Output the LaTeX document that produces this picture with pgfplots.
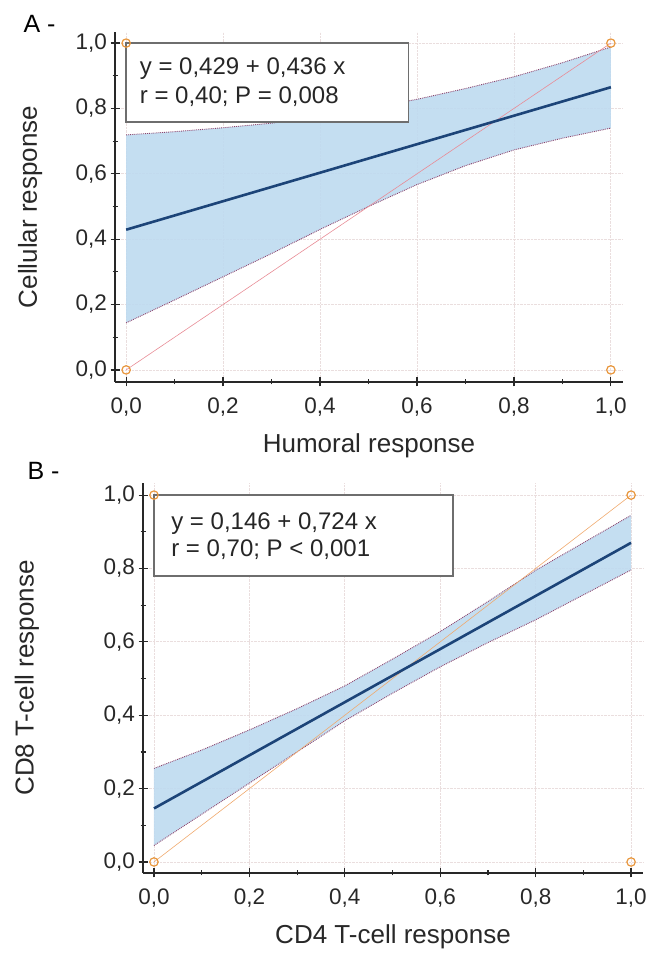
\documentclass[border=0pt]{standalone}
\usepackage{fontspec}
\setmainfont{Liberation Sans}
\usepackage{pgfplots}
\pgfplotsset{compat=1.18}
\usepgfplotslibrary{fillbetween}

\definecolor{band}{RGB}{190,218,240}
\definecolor{regline}{RGB}{28,68,120}
\definecolor{edge}{RGB}{140,70,110}
\definecolor{pts}{RGB}{232,150,60}
\definecolor{gridc}{RGB}{234,222,222}
\definecolor{axisc}{RGB}{40,40,40}
\definecolor{boxc}{RGB}{110,110,110}
\definecolor{diagA}{RGB}{232,140,150}
\definecolor{diagB}{RGB}{240,170,110}

\pgfplotsset{
  corr/.style={
    set layers,
    scale only axis,
    anchor=south west,
    axis lines=left,
    axis line style={-, line width=1.6pt, axisc},
    xmin=-0.023, xmax=1.025,
    xtick={0,0.2,0.4,0.6,0.8,1},
    ytick={0,0.2,0.4,0.6,0.8,1},
    minor tick num=1,
    major tick length=9pt,
    minor tick length=5pt,
    tick style={line width=1.2pt, axisc},
    grid=major,
    grid style={densely dotted, gridc, line width=0.8pt},
    tick label style={font=\fontsize{22.5}{26}\selectfont, text=axisc},
    xticklabel style={yshift=-8pt},
    /pgf/number format/fixed,
    /pgf/number format/fixed zerofill,
    /pgf/number format/precision=1,
    /pgf/number format/use comma,
    /pgf/number format/assume math mode=true,
    label style={font=\fontsize{26}{30}\selectfont, text=axisc},
  },
  edgeline/.style={edge, densely dotted, line width=0.9pt},
  pointset/.style={only marks, mark=o, mark size=4.2pt, pts, line width=1.2pt},
}

\begin{document}
\begin{tikzpicture}
\node[anchor=west, font=\fontsize{25}{30}\selectfont] at (20pt,929pt) {A -};
\node[anchor=west, font=\fontsize{25}{30}\selectfont] at (24pt,482pt) {B -};

% A - humoral vs cellular
\begin{axis}[corr,
    at={(115pt,571pt)}, width=508pt, height=350pt,
    ymin=-0.037, ymax=1.034,
    xlabel={Humoral response},
    ylabel={Cellular response},
    xlabel style={at={(axis description cs:0.5,-0.183)}, anchor=center},
    ylabel style={at={(axis description cs:-0.167,0.5)}, anchor=center},
]
\addplot[edgeline, name path=upA] coordinates {
  (0,0.719) (0.1,0.729) (0.2,0.741) (0.3,0.755) (0.4,0.775) (0.5,0.800)
  (0.6,0.828) (0.7,0.861) (0.8,0.897) (0.9,0.940) (1,0.988)};
\addplot[edgeline, name path=loA] coordinates {
  (0,0.144) (0.1,0.214) (0.2,0.285) (0.3,0.356) (0.4,0.430) (0.5,0.500)
  (0.6,0.567) (0.7,0.625) (0.8,0.673) (0.9,0.709) (1,0.740)};
\addplot[band, fill opacity=0.9] fill between[of=upA and loA];
\addplot[diagA, line width=0.6pt] coordinates {(0,0) (1,1)};
\addplot[regline, line width=2.6pt] coordinates {(0,0.429) (1,0.865)};
\draw[boxc, line width=1.4pt, fill=white] (axis cs:0,0.758) rectangle (axis cs:0.583,1.0);
\node[anchor=west, align=left, font=\fontsize{24}{29}\selectfont, text=black!85]
  at (axis cs:0.021,0.879) {y = 0,429 + 0,436 x\\r = 0,40; P = 0,008};
\addplot[pointset] coordinates {(0,0) (0,1) (1,0) (1,1)};
\end{axis}

% B - CD4 vs CD8
\begin{axis}[corr,
    at={(143pt,80pt)}, width=500pt, height=390pt,
    ymin=-0.030, ymax=1.033,
    xlabel={CD4 T-cell response},
    ylabel={CD8 T-cell response},
    xlabel style={at={(axis description cs:0.5,-0.164)}, anchor=center},
    ylabel style={at={(axis description cs:-0.232,0.5)}, anchor=center},
]
\addplot[edgeline, name path=upB] coordinates {
  (0,0.255) (0.1,0.305) (0.2,0.360) (0.3,0.418) (0.4,0.480) (0.5,0.553)
  (0.6,0.628) (0.7,0.710) (0.8,0.795) (0.9,0.870) (1,0.945)};
\addplot[edgeline, name path=loB] coordinates {
  (0,0.045) (0.1,0.130) (0.2,0.215) (0.3,0.300) (0.4,0.385) (0.5,0.460)
  (0.6,0.532) (0.7,0.598) (0.8,0.660) (0.9,0.728) (1,0.796)};
\addplot[band, fill opacity=0.9] fill between[of=upB and loB];
\addplot[diagB, line width=0.6pt] coordinates {(0,0) (1,1)};
\addplot[regline, line width=2.6pt] coordinates {(0,0.146) (1,0.870)};
\draw[boxc, line width=1.4pt, fill=white] (axis cs:0,0.779) rectangle (axis cs:0.627,1.0);
\node[anchor=west, align=left, font=\fontsize{24}{27}\selectfont, text=black!85]
  at (axis cs:0.029,0.889) {y = 0,146 + 0,724 x\\r = 0,70; P < 0,001};
\addplot[pointset] coordinates {(0,0) (0,1) (1,0) (1,1)};
\end{axis}

\pgfresetboundingbox
\path (0,0) rectangle (650pt,953pt);
\end{tikzpicture}
\end{document}
